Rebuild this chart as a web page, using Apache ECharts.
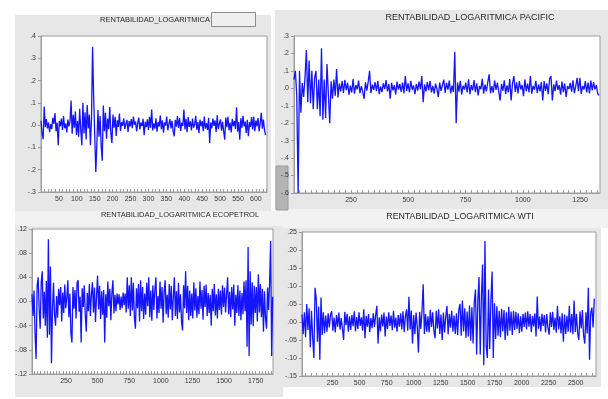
<!DOCTYPE html>
<html>
<head>
<meta charset="utf-8">
<title>RENTABILIDAD_LOGARITMICA</title>
<script src="https://cdn.jsdelivr.net/npm/echarts@6/dist/echarts.min.js"></script>
<style>
    html, body { margin: 0; padding: 0; background: #fff; }
    #echartsArea { width: 608px; height: 399px; }
</style>
</head>
<body>
<div id="echartsArea"></div>
<script>
//titulos de los cuatro paneles
var titles = ['RENTABILIDAD_LOGARITMICA', 'RENTABILIDAD_LOGARITMICA PACIFIC',
    'RENTABILIDAD_LOGARITMICA ECOPETROL', 'RENTABILIDAD_LOGARITMICA WTI'];

//panel 1 (un punto cada 3 observaciones)
var start1 = 0, step1 = 3;
var serie1 = [
    .02, -.035, -.063, .084, -.008, .027, -.015, .012, -.031, .004,
    -.018, .033, .006, .054, -.027, .011, -.09, .019, -.004, .029,
    -.022, .041, -.014, .008, -.033, .025, -.006, .017, .11, -.038,
    .046, -.012, .061, -.044, .018, -.052, .073, -.021, -.09, .10,
    -.037, .058, -.064, .09, -.015, .047, -.09, .032, .352, .13,
    -.044, -.21, -.085, .068, -.052, .041, -.093, -.16, .088, -.027,
    .055, -.061, .029, -.018, .081, -.036, -.08, .048, -.011, .037,
    -.049, .022, -.008, .052, -.026, .013, -.003, .031, -.017, .006,
    .024, -.031, .018, -.006, .027, -.014, .038, .002, .016, -.028,
    .009, .034, -.019, .011, -.004, .028, -.045, .015, -.009, .026,
    -.021, .037, -.012, .07, -.024, .008, -.016, .031, -.029, .014,
    -.006, .043, -.018, .022, -.034, .012, -.002, .039, -.023, .005,
    .027, -.015, .019, -.028, -.05, .024, -.007, .041, -.013, .032,
    -.026, .011, -.004, .07, -.019, .028, -.032, .036, -.008, .017,
    -.024, .03, -.011, .003, .042, -.021, .014, -.036, .025, -.005,
    .018, -.027, .039, -.016, .009, -.022, .033, -.08, .012, -.014,
    .029, -.003, .021, -.031, .044, -.018, .007, .026, -.025, .015,
    -.028, -.065, .034, -.009, .037, -.023, .011, -.033, .028, -.004,
    .019, -.017, .08, -.029, .014, -.065, .031, -.012, .042, -.006,
    .016, -.035, .024, -.05, .013, -.008, .036, -.019, .038, -.027,
    .021, -.006, .032, -.028, .009, .055, -.016, .025, -.021, -.045
];
var xLabels1 = ['50', '100', '150', '200', '250', '300', '350', '400', '450', '500', '550', '600'];
var yLabels1 = ['-.3', '-.2', '-.1', '.0', '.1', '.2', '.3', '.4'];

//panel 2 PACIFIC (un punto cada 6 observaciones)
var start2 = 1, step2 = 6;
var serie2 = [
    .05, .1, -.04, -.6, .1, -.14, .03, -.05, .06, .22,
    -.08, .16, -.085, .1, -.12, .06, .1, -.12, .05, -.16,
    .23, -.18, .05, -.17, .14, .15, -.2, .04, -.06, .05,
    -.043, .11, -.052, .027, -.018, .041, -.026, .048, -.011, .032,
    -.037, .015, -.024, .053, -.031, .019, -.006, .044, -.028, .012,
    -.019, -.06, .034, -.013, .038, .1, -.027, .021, -.009, .035,
    -.016, .042, -.033, .011, -.022, .029, -.004, .047, -.018, .024,
    -.06, .031, -.012, .018, -.035, .039, -.007, .026, -.021, .033,
    -.029, .07, -.015, .028, -.024, .043, -.008, .017, -.034, .025,
    -.013, .038, -.006, .07, -.08, .022, -.017, .036, -.01, .041,
    -.023, .014, -.031, .027, -.004, -.05, .033, -.014, .019, .05,
    -.026, .031, -.008, .045, -.029, .016, -.021, .21, -.2, .034,
    -.019, .043, -.036, .015, -.007, .032, -.024, .052, -.033, .018,
    -.012, .047, -.022, .029, -.041, .013, -.005, .054, -.03, .021,
    -.017, .035, .08, -.028, .012, -.025, .044, -.009, .031, -.019,
    -.07, .026, -.014, .046, -.032, .017, -.023, .053, -.07, .028,
    .07, -.021, .034, -.029, .042, -.006, .019, -.045, .051, -.016,
    .027, -.024, .07, -.031, .014, -.008, .043, -.027, .022, -.018,
    .036, -.07, .041, -.015, .029, -.034, .055, .07, -.07, .023,
    -.016, .044, -.009, .018, -.036, .039, -.022, .028, -.05, .013,
    -.004, .031, -.019, .046, -.028, .011, .06, -.017, .06, -.032,
    .014, -.007, .041, -.024, .033, -.029, .045, -.012, .036, -.006,
    .018, -.031, -.04
];
var xLabels2 = ['250', '500', '750', '1000', '1250'];
var yLabels2 = ['-.6', '-.5', '-.4', '-.3', '-.2', '-.1', '.0', '.1', '.2', '.3'];

//panel 3 ECOPETROL (un punto cada 8 observaciones)
var start3 = -19, step3 = 8.1;
var serie3 = [
    .012, -.024, .018, -.055, -.095, .026, .04, -.013, -.045, .031,
    .05, -.028, .016, -.04, .034, -.06, .103, -.055, .058, -.102,
    -.014, .031, -.022, -.04, .009, -.027, .021, -.006, .024, -.033,
    .015, -.019, .028, -.011, .006, .035, -.026, .013, -.052, -.068,
    .024, -.012, .019, -.028, .031, .035, -.017, .008, -.068, .022,
    -.009, .027, -.021, -.05, .014, -.016, .029, -.024, .011, .032,
    -.018, .023, -.034, .009, .043, -.013, .026, -.029, .017, -.022,
    .019, -.068, .012, -.027, .033, -.008, .021, -.031, .014, .035,
    -.02, .011, -.016, .013, -.005, .012, -.014, .008, -.011, .015,
    -.006, .013, -.018, .04, -.012, .027, -.024, .04, -.015, .031,
    -.027, -.045, .022, -.011, .029, -.033, .035, -.016, .024, -.029,
    .013, -.022, .031, -.008, .04, -.026, .018, -.032, .027, -.014,
    .021, .04, -.028, .009, -.019, .033, -.012, .024, -.035, .016,
    .035, -.021, .011, -.027, .029, -.013, .026, -.031, .008, .04,
    -.024, .017, -.029, .031, -.018, .012, -.034, -.048, .027, -.011,
    .05, -.019, .026, -.031, .018, -.024, .013, -.028, .032, -.015,
    .022, -.027, .009, -.021, .033, -.012, .019, -.03, .026, -.009,
    .028, -.024, .014, -.019, .011, -.04, .021, -.016, .029, -.023,
    .012, -.028, .021, -.014, .018, -.022, .027, -.009, .023, -.018,
    .013, .04, -.021, .016, -.026, .024, -.013, .028, -.04, .011,
    -.019, .027, -.024, .018, -.031, .014, -.021, .033, -.016, .035,
    -.075, .09, -.09, .05, -.038, .032, -.041, .026, -.019, .024,
    -.033, .045, -.018, .029, -.026, .021, -.05, .017, -.028, -.045,
    .023, -.014, .031, .1, -.09, .008
];
var xLabels3 = ['250', '500', '750', '1000', '1250', '1500', '1750'];
var yLabels3 = ['-.12', '-.08', '-.04', '.00', '.04', '.08', '.12'];

//panel 4 WTI (un punto cada 11 observaciones)
var start4 = -34, step4 = 11;
var serie4 = [
    .021, -.034, .027, -.042, .05, -.022, .038, -.07, .031, -.045,
    -.1, .095, .065, -.055, .043, -.105, .068, -.036, .027, -.031,
    .018, -.027, .024, -.015, .021, .03, -.024, .012, -.029, .019,
    -.013, .026, -.021, .011, -.018, -.05, .028, -.009, .023, -.027,
    .016, -.022, .019, -.012, .03, -.026, .014, -.019, .027, -.011,
    .013, -.024, .035, -.045, .017, -.013, .022, -.028, .011, -.017,
    .024, -.014, .019, .045, -.06, .013, -.026, .021, -.012, .026,
    -.04, .015, -.019, .027, -.011, .018, -.023, .031, -.016, .012,
    -.027, .019, -.013, .024, -.021, .03, -.028, .016, .035, -.024,
    .07, -.021, .032, -.06, .019, -.034, .026, -.012, -.085, .028,
    -.019, .031, .105, -.033, .022, -.027, .016, -.029, .034, -.014,
    .027, -.024, -.045, .031, -.018, .035, -.033, .021, -.05, .026,
    -.029, .015, .045, -.034, .022, -.016, .031, -.027, .018, -.033,
    .024, -.036, .035, .05, -.038, .06, -.026, .038, -.044, .029,
    -.04, .046, -.052, .041, -.06, .055, .09, -.09, .06, .125,
    -.09, .072, .16, -.12, .225, -.065, -.1, .09, -.075, .058,
    .14, -.1, .052, -.047, .044, -.038, .031, -.042, .037, -.026,
    .033, -.05, .027, -.038, .042, -.024, .029, -.036, .031, -.022,
    .028, -.019, .024, -.031, .016, -.027, .023, -.014, .026, -.021,
    .03, -.013, .022, -.028, .017, -.012, .024, -.04, .071, -.019,
    .015, -.026, .023, -.011, .019, -.029, .022, -.016, -.035, .027,
    -.014, .028, -.022, .012, -.03, .045, -.021, .016, -.032, .024,
    -.055, .021, -.033, .017, -.027, .045, -.029, .022, -.034, .06,
    -.028, .023, -.031, -.05, .029, -.018, .033, -.037, -.06, .027,
    -.032, .095, -.105, .026, .04, -.015, .065
];
var xLabels4 = ['250', '500', '750', '1000', '1250', '1500', '1750', '2000', '2250', '2500'];
var yLabels4 = ['-.15', '-.10', '-.05', '.00', '.05', '.10', '.15', '.20', '.25'];

var dom = document.getElementById('echartsArea');
var myChart = echarts.init(dom, null, {renderer: 'canvas'});

var axisColor = '#9c9c9c';
var lineColor = '#1414ff';
var fontName = 'Liberation Sans';

//observacion -> valor
function toPairs(values, start, step) {
    var out = [];
    for (var i = 0; i < values.length; i++) {
        out.push([start + i * step, values[i]]);
    }
    return out;
}

//etiquetas estilo EViews (sin cero inicial)
function labelOf(list) {
    return function (value) {
        for (var i = 0; i < list.length; i++) {
            if (Math.abs(parseFloat(list[i]) - value) < 1e-6) {
                return list[i];
            }
        }
        return '';
    };
}

function numbers(list) {
    return list.map(function (s) { return parseFloat(s); });
}

function tickRange(min, max, step) {
    var out = [];
    for (var v = Math.ceil(min / step) * step; v <= max; v += step) {
        out.push(v);
    }
    return out;
}

function xAxisOp(gridIndex, min, max, labels, tickStep) {
    return {
        type: 'value',
        gridIndex: gridIndex,
        min: min,
        max: max,
        axisLine: {show: true, onZero: false, lineStyle: {color: axisColor, width: 1}},
        axisTick: {
            show: true, inside: true, length: 3,
            customValues: tickRange(min, max, tickStep),
            lineStyle: {color: axisColor}
        },
        axisLabel: {
            customValues: numbers(labels),
            formatter: labelOf(labels),
            margin: 4,
            fontFamily: fontName,
            fontSize: 7,
            color: '#3a3a3a'
        },
        splitLine: {show: false}
    };
}

function yAxisOp(gridIndex, labels) {
    var vals = numbers(labels);
    return {
        type: 'value',
        gridIndex: gridIndex,
        min: vals[0],
        max: vals[vals.length - 1],
        axisLine: {show: true, onZero: false, lineStyle: {color: axisColor, width: 1}},
        axisTick: {
            show: true, inside: false, length: 3,
            customValues: vals,
            lineStyle: {color: axisColor}
        },
        axisLabel: {
            customValues: vals,
            formatter: labelOf(labels),
            margin: 5,
            fontFamily: fontName,
            fontSize: 7,
            color: '#3a3a3a'
        },
        splitLine: {show: false}
    };
}

function serieOp(index, values, start, step) {
    return {
        type: 'line',
        xAxisIndex: index,
        yAxisIndex: index,
        data: toPairs(values, start, step),
        showSymbol: false,
        symbol: 'none',
        silent: true,
        lineStyle: {color: lineColor, width: 1.3}
    };
}

function gridOp(left, top, width, height) {
    return {
        left: left, top: top, width: width, height: height,
        show: true,
        backgroundColor: '#ffffff',
        borderColor: axisColor,
        borderWidth: 1
    };
}

function rect(x, y, w, h, fill, stroke) {
    return {
        type: 'rect', z: -10, silent: true,
        shape: {x: x, y: y, width: w, height: h},
        style: {fill: fill, stroke: stroke || null, lineWidth: 1}
    };
}

function label(text, x, y, size, align) {
    return {
        type: 'text', z: 10, silent: true,
        x: x, y: y,
        style: {
            text: text,
            font: size + 'px "' + fontName + '"',
            fill: '#2a2a2a',
            align: align, verticalAlign: 'middle',
            textAlign: align, textVerticalAlign: 'middle'
        }
    };
}

var option = {
    backgroundColor: '#ffffff',
    animation: false,
    grid: [
        gridOp(41, 36, 226, 156),
        gridOp(294, 36, 306, 157),
        gridOp(32, 229, 241, 145),
        gridOp(302, 232, 294, 144)
    ],
    xAxis: [
        xAxisOp(0, 0, 631, xLabels1, 10),
        xAxisOp(1, 1, 1337, xLabels2, 25),
        xAxisOp(2, -19, 1887, xLabels3, 25),
        xAxisOp(3, -34, 2688, xLabels4, 50)
    ],
    yAxis: [
        yAxisOp(0, yLabels1),
        yAxisOp(1, yLabels2),
        yAxisOp(2, yLabels3),
        yAxisOp(3, yLabels4)
    ],
    series: [
        serieOp(0, serie1, start1, step1),
        serieOp(1, serie2, start2, step2),
        serieOp(2, serie3, start3, step3),
        serieOp(3, serie4, start4, step4)
    ],
    graphic: {
        elements: [
            //fondos grises de cada ventana
            rect(15, 15, 256, 197, '#e7e7e7'),
            rect(275, 10, 333, 199, '#e7e7e7'),
            rect(15, 211, 268, 186, '#e7e7e7'),
            rect(15, 211, 268, 15, '#f2f2f2'),
            rect(283, 209, 318, 178, '#e7e7e7'),
            rect(283, 209, 325, 19, '#f2f2f2'),
            //barra de desplazamiento
            rect(276, 166, 12, 44, '#b4b4b4', '#9a9a9a'),
            //caja vacia junto al titulo 1
            rect(211.5, 12.5, 44, 14, '#efefef', '#8c8c8c'),
            label(titles[0], 210, 20, 7.5, 'right'),
            label(titles[1], 470, 18, 9, 'center'),
            label(titles[2], 180, 215, 7.5, 'center'),
            label(titles[3], 460, 217, 8.8, 'center')
        ]
    }
};

if (option && typeof option === 'object') {
    myChart.setOption(option, true);
}
</script>
</body>
</html>
